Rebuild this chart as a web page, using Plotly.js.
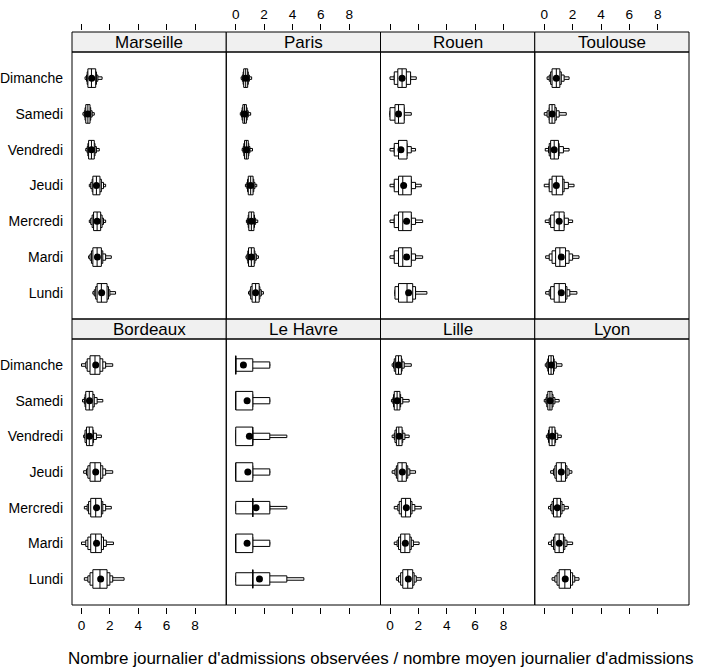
<!DOCTYPE html>
<html>
<head>
<meta charset="utf-8">
<script src="https://cdn.plot.ly/plotly-3.0.1.min.js"></script>
<style>
  html, body { margin: 0; padding: 0; background: #fff; }
  #chart { width: 704px; height: 670px; }
</style>
</head>
<body>
<div id="chart"></div>
<script>
// Days from bottom (Lundi) to top (Dimanche)
const days = ['Lundi', 'Mardi', 'Mercredi', 'Jeudi', 'Vendredi', 'Samedi', 'Dimanche'];
const xTicks = [0, 2, 4, 6, 8];

// Each row: q05, q12.5, q25, q37.5, q50, q62.5, q75, q87.5, q95, mean  (Lundi ... Dimanche)
const marseille = [
  [0.80, 0.90, 1.00, 1.10, 1.40, 1.80, 1.90, 2.00, 2.40, 1.42],
  [0.50, 0.60, 0.70, 0.80, 1.10, 1.40, 1.50, 1.70, 2.10, 1.12],
  [0.55, 0.65, 0.75, 0.85, 1.10, 1.35, 1.45, 1.55, 1.70, 1.10],
  [0.55, 0.65, 0.75, 0.80, 1.05, 1.30, 1.40, 1.55, 1.70, 1.05],
  [0.30, 0.40, 0.45, 0.50, 0.70, 0.90, 0.95, 1.05, 1.25, 0.70],
  [0.10, 0.20, 0.25, 0.30, 0.45, 0.60, 0.65, 0.75, 0.90, 0.45],
  [0.25, 0.35, 0.40, 0.45, 0.70, 1.00, 1.05, 1.15, 1.45, 0.72]
];
const paris = [
  [0.90, 1.00, 1.05, 1.15, 1.40, 1.65, 1.70, 1.80, 1.95, 1.40],
  [0.72, 0.80, 0.85, 0.90, 1.10, 1.30, 1.35, 1.45, 1.60, 1.10],
  [0.75, 0.82, 0.88, 0.92, 1.10, 1.28, 1.32, 1.40, 1.55, 1.10],
  [0.68, 0.78, 0.83, 0.88, 1.05, 1.22, 1.27, 1.35, 1.48, 1.05],
  [0.45, 0.52, 0.57, 0.62, 0.75, 0.88, 0.92, 1.00, 1.18, 0.76],
  [0.32, 0.40, 0.45, 0.50, 0.62, 0.75, 0.80, 0.88, 1.05, 0.63],
  [0.38, 0.46, 0.52, 0.56, 0.70, 0.84, 0.88, 0.96, 1.12, 0.70]
];
const rouen = [
  [0.35, 0.35, 0.35, 0.60, 1.20, 1.60, 1.80, 1.80, 2.60, 1.31],
  [0.00, 0.30, 0.30, 0.60, 0.90, 1.50, 1.50, 1.80, 2.30, 1.17],
  [0.00, 0.30, 0.30, 0.60, 0.90, 1.50, 1.50, 1.80, 2.30, 1.17],
  [0.00, 0.30, 0.30, 0.60, 0.90, 1.50, 1.50, 1.80, 2.20, 0.96],
  [0.00, 0.30, 0.30, 0.60, 0.60, 1.20, 1.20, 1.50, 1.80, 0.77],
  [0.00, 0.00, 0.00, 0.35, 0.60, 1.00, 1.00, 1.00, 1.50, 0.60],
  [0.00, 0.30, 0.30, 0.55, 0.85, 1.15, 1.45, 1.45, 1.85, 0.85]
];
const toulouse = [
  [0.10, 0.35, 0.45, 0.70, 1.05, 1.50, 1.60, 1.80, 2.30, 1.20],
  [0.10, 0.35, 0.55, 0.80, 1.10, 1.50, 1.75, 2.00, 2.45, 1.20],
  [0.07, 0.35, 0.45, 0.70, 1.05, 1.40, 1.40, 1.70, 2.00, 1.05],
  [0.00, 0.35, 0.35, 0.55, 0.85, 1.30, 1.40, 1.70, 2.10, 0.85],
  [0.07, 0.30, 0.35, 0.45, 0.70, 1.00, 1.05, 1.35, 1.75, 0.70],
  [0.00, 0.20, 0.35, 0.35, 0.55, 0.75, 0.85, 1.05, 1.55, 0.56],
  [0.20, 0.35, 0.45, 0.55, 0.85, 1.10, 1.20, 1.40, 1.75, 0.85]
];
const bordeaux = [
  [0.20, 0.45, 0.60, 0.80, 1.30, 1.80, 2.00, 2.20, 3.00, 1.35],
  [0.00, 0.30, 0.45, 0.65, 1.00, 1.40, 1.55, 1.75, 2.25, 1.06],
  [0.20, 0.40, 0.50, 0.65, 1.00, 1.40, 1.50, 1.70, 2.10, 1.06],
  [0.15, 0.35, 0.45, 0.60, 0.95, 1.35, 1.50, 1.70, 2.20, 1.00],
  [0.15, 0.25, 0.25, 0.35, 0.55, 0.80, 0.85, 1.05, 1.40, 0.56],
  [0.07, 0.20, 0.25, 0.30, 0.55, 0.80, 0.90, 1.10, 1.50, 0.56],
  [0.00, 0.30, 0.40, 0.60, 0.95, 1.30, 1.50, 1.70, 2.20, 1.00]
];
const leHavre = [
  [0.00, 0.00, 0.00, 1.20, 1.20, 1.20, 2.40, 3.60, 4.80, 1.67],
  [0.00, 0.00, 0.00, 0.00, 0.00, 1.20, 1.20, 2.40, 2.40, 0.80],
  [0.00, 0.00, 0.00, 1.20, 1.20, 1.20, 2.40, 2.40, 3.60, 1.43],
  [0.00, 0.00, 0.00, 0.00, 0.00, 1.20, 1.20, 2.40, 2.40, 0.85],
  [0.00, 0.00, 0.00, 0.00, 1.20, 1.20, 1.20, 2.40, 3.60, 0.96],
  [0.00, 0.00, 0.00, 0.00, 0.00, 1.20, 1.20, 2.40, 2.40, 0.80],
  [0.00, 0.00, 0.00, 0.00, 0.00, 0.00, 1.20, 2.40, 2.40, 0.54]
];
const lille = [
  [0.45, 0.60, 0.75, 0.90, 1.25, 1.60, 1.70, 1.85, 2.20, 1.29],
  [0.30, 0.50, 0.60, 0.75, 1.05, 1.40, 1.50, 1.65, 2.05, 1.08],
  [0.30, 0.55, 0.65, 0.80, 1.10, 1.45, 1.55, 1.75, 2.20, 1.15],
  [0.15, 0.35, 0.45, 0.55, 0.85, 1.15, 1.25, 1.40, 1.80, 0.87],
  [0.15, 0.30, 0.35, 0.45, 0.62, 0.85, 0.90, 1.05, 1.35, 0.65],
  [0.10, 0.20, 0.25, 0.30, 0.50, 0.70, 0.75, 0.90, 1.35, 0.50],
  [0.15, 0.25, 0.30, 0.40, 0.60, 0.80, 0.85, 1.00, 1.50, 0.60]
];
const lyon = [
  [0.55, 0.75, 0.90, 1.05, 1.45, 1.85, 2.00, 2.15, 2.45, 1.48],
  [0.30, 0.50, 0.65, 0.75, 1.05, 1.35, 1.45, 1.60, 2.00, 1.06],
  [0.30, 0.45, 0.55, 0.65, 0.90, 1.15, 1.25, 1.40, 1.70, 0.92],
  [0.45, 0.65, 0.75, 0.85, 1.20, 1.50, 1.60, 1.75, 1.95, 1.20],
  [0.15, 0.25, 0.30, 0.35, 0.55, 0.75, 0.80, 0.95, 1.20, 0.56],
  [0.00, 0.12, 0.18, 0.25, 0.40, 0.55, 0.62, 0.75, 1.05, 0.42],
  [0.07, 0.18, 0.25, 0.30, 0.48, 0.65, 0.70, 0.85, 1.25, 0.50]
];

// Panels: bottom row first (axes 1-4), then top row (axes 5-8)
const panelNames = ['Bordeaux', 'Le Havre', 'Lille', 'Lyon', 'Marseille', 'Paris', 'Rouen', 'Toulouse'];
const panelData = [bordeaux, leHavre, lille, lyon, marseille, paris, rouen, toulouse];

// Box-percentile layers: [low index, high index, box height]  (outermost first)
const layers = [[0, 8, 0.07], [1, 7, 0.175], [2, 6, 0.35], [3, 5, 0.52]];
const MEDIAN_HALF = 0.26;

const FONT = 'Liberation Sans, Arial, Helvetica, sans-serif';
const W = 704, H = 670;
const mL = 72, mR = 15, mT = 30, mB = 63;
const plotH = H - mT - mB;
const fy = px => (H - mB - px) / plotH; // pixel row -> paper fraction

const topPanel = [fy(319), fy(52)];
const topStrip = [fy(52), fy(32)];
const botStrip = [fy(339), fy(319)];
const botPanel = [fy(605), fy(339)];

const ypos = days.map((d, i) => i + 1);
const traces = [];
const layout = {
  width: W, height: H,
  margin: { l: mL, r: mR, t: mT, b: mB, pad: 0 },
  paper_bgcolor: '#fff', plot_bgcolor: '#fff',
  showlegend: false,
  barmode: 'overlay',
  font: { family: FONT, color: '#000', size: 14 },
  shapes: [], annotations: []
};

panelData.forEach((rows, p) => {
  const n = p + 1;
  const col = p % 4;
  const top = p >= 4;
  const xa = 'x' + n, ya = 'y' + n;

  layers.forEach(([lo, hi, h]) => {
    traces.push({
      type: 'bar', orientation: 'h',
      y: ypos,
      base: rows.map(r => r[lo]),
      x: rows.map(r => r[hi] - r[lo]),
      width: h,
      marker: { color: '#ffffff', line: { color: '#000', width: 1 } },
      xaxis: xa, yaxis: ya, hoverinfo: 'skip'
    });
  });

  // median reference line
  traces.push({
    type: 'scatter', mode: 'markers',
    x: rows.map(r => r[4]), y: ypos,
    marker: { size: 1, color: 'rgba(0,0,0,0)' },
    error_y: { type: 'constant', value: MEDIAN_HALF, width: 0, thickness: 1, color: '#000' },
    xaxis: xa, yaxis: ya, hoverinfo: 'skip'
  });

  // mean dot
  traces.push({
    type: 'scatter', mode: 'markers',
    x: rows.map(r => r[9]), y: ypos,
    marker: { size: 7, color: '#000', symbol: 'circle' },
    xaxis: xa, yaxis: ya, hoverinfo: 'skip'
  });

  const dom = [col / 4, (col + 1) / 4];
  layout['xaxis' + n] = {
    domain: dom,
    range: [-0.67, 10.2],
    tickvals: xTicks, ticktext: xTicks.map(String),
    ticks: 'outside', ticklen: 6, tickwidth: 1, tickcolor: '#000',
    showticklabels: top ? (col % 2 === 1) : (col % 2 === 0),
    side: top ? 'top' : 'bottom',
    anchor: 'free', position: top ? 1 : 0,
    showgrid: false, zeroline: false, showline: false, fixedrange: true,
    tickfont: { family: FONT, size: 13.6, color: '#000' }
  };
  layout['yaxis' + n] = {
    domain: top ? topPanel : botPanel,
    range: [0.27, 7.73],
    tickvals: ypos, ticktext: days,
    ticks: '', ticklabelstandoff: 8,
    showticklabels: col === 0,
    anchor: xa,
    showgrid: false, zeroline: false, showline: false, fixedrange: true,
    tickfont: { family: FONT, size: 14, color: '#000' }
  };

  // strip and panel frame
  const strip = top ? topStrip : botStrip;
  const pan = top ? topPanel : botPanel;
  layout.shapes.push({
    type: 'rect', xref: 'paper', yref: 'paper',
    x0: dom[0], x1: dom[1], y0: strip[0], y1: strip[1],
    fillcolor: '#f0f0f0', line: { color: '#000', width: 1 }, layer: 'below'
  });
  layout.shapes.push({
    type: 'rect', xref: 'paper', yref: 'paper',
    x0: dom[0], x1: dom[1], y0: pan[0], y1: pan[1],
    fillcolor: 'rgba(0,0,0,0)', line: { color: '#000', width: 1 }, layer: 'above'
  });
  layout.annotations.push({
    text: panelNames[p], xref: 'paper', yref: 'paper',
    x: (dom[0] + dom[1]) / 2, y: (strip[0] + strip[1]) / 2,
    xanchor: 'center', yanchor: 'middle', showarrow: false,
    font: { family: FONT, size: 17, color: '#000' }
  });
});

layout.annotations.push({
  text: "Nombre journalier d'admissions observées / nombre moyen journalier d'admissions",
  xref: 'paper', yref: 'paper', x: 0.5, y: fy(658),
  xanchor: 'center', yanchor: 'middle', showarrow: false,
  font: { family: FONT, size: 17, color: '#000' }
});

Plotly.newPlot('chart', traces, layout, { displayModeBar: false, staticPlot: true });
</script>
</body>
</html>
